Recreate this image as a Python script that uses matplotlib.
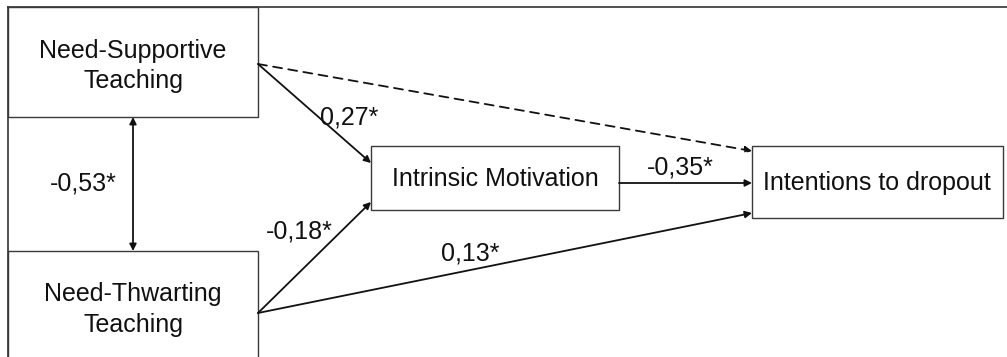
import matplotlib
matplotlib.use("Agg")
import matplotlib.pyplot as plt
from matplotlib.patches import Rectangle

# path coefficients
coef_labels = ["NS->IM", "NT->IM", "IM->ID", "NT->ID", "NS<->NT"]
coef_values = [0.27, -0.18, -0.35, 0.13, -0.53]

box_names = ["Need-Supportive\nTeaching", "Need-Thwarting\nTeaching",
             "Intrinsic Motivation", "Intentions to dropout"]

plt.rcParams['font.family'] = ['Liberation Sans', 'DejaVu Sans']


def fmt(v):
    return f"{v:.2f}".replace('.', ',') + '*'


fig = plt.figure(figsize=(10.07, 3.57), dpi=100)
ax = fig.add_axes([0, 0, 1, 1])
ax.set_xlim(0, 1007)
ax.set_ylim(357, 0)
ax.axis('off')

# frame edges of the slide
ax.plot([8, 1007], [7, 7], color='#222222', lw=1.1)
ax.plot([8, 8], [7, 357], color='#222222', lw=1.1)

# boxes: (x0, y0, x1, y1)
boxes = [(8, 7, 258, 117), (8, 251, 258, 380), (371, 146, 619, 210), (752, 146, 1003, 218)]
for (x0, y0, x1, y1) in boxes:
    ax.add_patch(Rectangle((x0, y0), x1 - x0, y1 - y0, fill=False,
                           ec='#3a3a3a', lw=1.0, zorder=2))

fs = 18
tc = '#111111'
ax.text(133, 51, "Need-Supportive", ha='center', va='center', fontsize=fs, color=tc)
ax.text(133, 81, "Teaching", ha='center', va='center', fontsize=fs, color=tc)
ax.text(133, 294, "Need-Thwarting", ha='center', va='center', fontsize=fs, color=tc)
ax.text(133, 325, "Teaching", ha='center', va='center', fontsize=fs, color=tc)
ax.text(495, 179, box_names[2], ha='center', va='center', fontsize=fs, color=tc)
ax.text(877, 183, box_names[3], ha='center', va='center', fontsize=fs, color=tc)


def arrow(p0, p1, style='-|>', ls='-'):
    ax.annotate('', xy=p1, xytext=p0,
                arrowprops=dict(arrowstyle=style, color='#111111', lw=1.3,
                                linestyle=ls, shrinkA=0, shrinkB=0,
                                mutation_scale=10))


arrow((258, 64), (371, 163))
arrow((258, 313), (371, 202))
arrow((619, 183), (752, 183))
arrow((258, 313), (752, 213))
arrow((258, 64), (752, 151), ls=(0, (5, 3.5)))
arrow((133, 117), (133, 251), style='<|-|>')

# coefficient labels
label_pos = [(349, 118), (299, 231), (680, 168), (470, 253), (83, 184)]
for v, (x, y) in zip(coef_values, label_pos):
    ax.text(x, y, fmt(v), ha='center', va='center', fontsize=fs, color=tc)

fig.savefig('out.png', dpi=100)
